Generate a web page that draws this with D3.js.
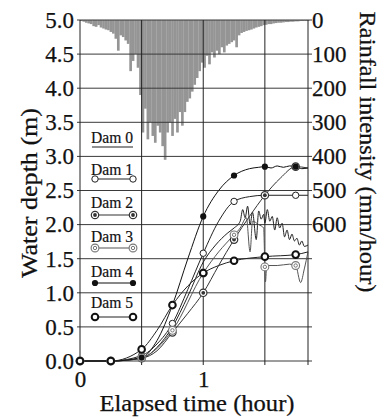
<!DOCTYPE html>
<html>
<head>
<meta charset="utf-8">
<script src="https://cdn.jsdelivr.net/npm/d3@7"></script>
<style>
  body { margin: 0; background: #fff; }
  svg { display: block; font-family: "Liberation Serif", "Times New Roman", serif; }
</style>
</head>
<body>
<svg id="chart" width="384" height="419"></svg>
<script>
// rainfall intensity (mm/hour), one bar every 0.02 hour from t = 0
const rainStep = 0.02;
const rainfall = [3, 5, 8, 10, 12, 18, 20, 15, 22, 25, 28, 30, 35, 40, 55, 90, 45, 50, 60, 70,
  150, 120, 100, 140, 220, 330, 260, 350, 300, 340, 360, 310, 330, 370, 410, 330, 300, 340, 290, 330,
  270, 310, 270, 240, 230, 210, 190, 170, 150, 125, 140, 105, 130, 95, 110, 90, 100, 80, 95, 75,
  70, 65, 60, 80, 45, 38, 35, 32, 30, 28, 25, 22, 20, 18, 15, 14, 12, 12, 10, 9,
  8, 8, 7, 6, 6, 5, 5, 4, 4, 3, 3, 3, 2];

// water depth (m) against elapsed time (hour)
const dam0 = [[0, 0], [0.25, 0], [0.5, 0.04], [0.625, 0.2], [0.75, 0.5], [0.875, 0.95], [1.0, 1.45],
  [1.1, 1.7], [1.2, 1.88], [1.25, 1.95], [1.3, 2.05], [1.32, 2.22], [1.34, 2.1], [1.36, 2.27], [1.38, 2.0],
  [1.4, 2.18], [1.43, 1.78], [1.45, 2.2], [1.47, 2.08], [1.49, 2.15], [1.5, 2.02], [1.52, 2.22], [1.54, 2.05],
  [1.56, 2.12], [1.58, 1.92], [1.6, 2.1], [1.62, 1.95], [1.64, 2.02], [1.66, 1.82], [1.68, 1.92], [1.7, 1.78],
  [1.72, 1.86], [1.74, 1.76], [1.76, 1.8], [1.78, 1.7], [1.8, 1.76], [1.82, 1.68], [1.85, 1.7]];
const dam1 = [[0, 0], [0.25, 0], [0.5, 0.08], [0.625, 0.25], [0.75, 0.55], [0.875, 1.05], [1.0, 1.58],
  [1.125, 2.05], [1.25, 2.34], [1.375, 2.41], [1.5, 2.43], [1.75, 2.43], [1.85, 2.43]];
const dam2 = [[0, 0], [0.25, 0], [0.5, 0.04], [0.625, 0.15], [0.75, 0.42], [0.875, 0.7], [1.0, 1.0],
  [1.125, 1.4], [1.25, 1.78], [1.375, 2.12], [1.5, 2.43], [1.625, 2.68], [1.75, 2.85], [1.85, 2.83]];
const dam3 = [[0, 0], [0.25, 0], [0.5, 0.05], [0.75, 0.45], [1.0, 1.29], [1.125, 1.6], [1.25, 1.85],
  [1.3, 1.95], [1.35, 2.1], [1.38, 1.6], [1.4, 2.05], [1.45, 2.0], [1.49, 1.95], [1.5, 1.38], [1.505, 1.16],
  [1.515, 1.4], [1.6, 1.4], [1.7, 1.42], [1.75, 1.4], [1.79, 1.15], [1.82, 1.35], [1.85, 1.6]];
const dam4 = [[0, 0], [0.25, 0], [0.5, 0.05], [0.625, 0.3], [0.75, 0.82], [0.875, 1.5], [1.0, 2.12],
  [1.125, 2.5], [1.25, 2.72], [1.375, 2.82], [1.45, 2.84], [1.5, 2.85], [1.55, 2.83], [1.6, 2.86],
  [1.65, 2.84], [1.7, 2.86], [1.75, 2.85], [1.8, 2.82], [1.85, 2.83]];
const dam5 = [[0, 0], [0.25, 0], [0.5, 0.17], [0.625, 0.45], [0.75, 0.82], [0.875, 1.1], [1.0, 1.29],
  [1.125, 1.4], [1.25, 1.47], [1.5, 1.53], [1.75, 1.56], [1.85, 1.6]];

const damNames = ['Dam 0', 'Dam 1', 'Dam 2', 'Dam 3', 'Dam 4', 'Dam 5'];
const depthTicks = [0, 0.5, 1, 1.5, 2, 2.5, 3, 3.5, 4, 4.5, 5];
const rainTicks = [0, 100, 200, 300, 400, 500, 600];
const timeTicks = [0, 0.5, 1, 1.5, 1.85];

const svg = d3.select('#chart');
const plotL = 80, plotR = 308, plotT = 20, plotB = 361;

const x = d3.scaleLinear().domain([0, 1.85]).range([plotL, plotR]);
const y = d3.scaleLinear().domain([0, 5]).range([plotB, plotT]);
const rain = d3.scaleLinear().domain([0, 1000]).range([plotT, plotB]);

// hyetograph hanging from the top
svg.append('g')
    .selectAll('rect')
    .data(rainfall)
    .join('rect')
    .attr('x', (d, i) => x(i * rainStep))
    .attr('width', (d, i) => x((i + 1) * rainStep) - x(i * rainStep) + 0.2)
    .attr('y', plotT)
    .attr('height', d => rain(d) - plotT)
    .attr('fill', '#959595');

// grid
svg.append('g')
    .selectAll('line')
    .data(depthTicks)
    .join('line')
    .attr('x1', plotL - 3).attr('x2', plotR + 4)
    .attr('y1', d => y(d)).attr('y2', d => y(d))
    .attr('stroke', '#3a3a3a').attr('stroke-width', 1);

svg.append('g')
    .selectAll('line')
    .data(timeTicks)
    .join('line')
    .attr('x1', d => x(d)).attr('x2', d => x(d))
    .attr('y1', plotT).attr('y2', plotB + 4)
    .attr('stroke', '#222').attr('stroke-width', 1);

// axes (labels only, lines come from the grid)
const yAxis = svg.append('g')
    .attr('transform', `translate(${plotL},0)`)
    .call(d3.axisLeft(y).tickValues(depthTicks).tickFormat(d3.format('.1f')).tickSize(0).tickPadding(6));
const rAxis = svg.append('g')
    .attr('transform', `translate(${plotR},0)`)
    .call(d3.axisRight(rain).tickValues(rainTicks).tickSize(0).tickPadding(4));
const xAxis = svg.append('g')
    .attr('transform', `translate(0,${plotB})`)
    .call(d3.axisBottom(x).tickValues([0, 1]).tickFormat(d3.format('d')).tickSize(0).tickPadding(10));
[yAxis, rAxis, xAxis].forEach(a => {
    a.select('.domain').remove();
    a.selectAll('text').attr('font-size', 23).attr('fill', '#111')
        .attr('stroke', '#111').attr('stroke-width', 0.25)
        .attr('font-family', '"Liberation Serif", serif');
});

// water depth lines
const series = [
    {data: dam0, marker: null, color: '#222'},
    {data: dam1, marker: 'open', color: '#222'},
    {data: dam2, marker: 'dot', color: '#333'},
    {data: dam3, marker: 'double', color: '#555'},
    {data: dam4, marker: 'filled', color: '#111'},
    {data: dam5, marker: 'bold', color: '#222'}
];

const line = d3.line()
    .x(d => x(d[0]))
    .y(d => y(d[1]))
    .curve(d3.curveMonotoneX);

function drawMarker(g, kind, cx, cy) {
    if (kind === 'open') {
        g.append('circle').attr('cx', cx).attr('cy', cy).attr('r', 3.2)
            .attr('fill', '#fff').attr('stroke', '#222').attr('stroke-width', 1);
    } else if (kind === 'dot') {
        g.append('circle').attr('cx', cx).attr('cy', cy).attr('r', 3.7)
            .attr('fill', '#fff').attr('stroke', '#333').attr('stroke-width', 1.2);
        g.append('circle').attr('cx', cx).attr('cy', cy).attr('r', 1.9).attr('fill', '#333');
    } else if (kind === 'double') {
        g.append('circle').attr('cx', cx).attr('cy', cy).attr('r', 3.9)
            .attr('fill', '#fff').attr('stroke', '#777').attr('stroke-width', 1.1);
        g.append('circle').attr('cx', cx).attr('cy', cy).attr('r', 1.7)
            .attr('fill', 'none').attr('stroke', '#777').attr('stroke-width', 1);
    } else if (kind === 'filled') {
        g.append('circle').attr('cx', cx).attr('cy', cy).attr('r', 3.1).attr('fill', '#111');
    } else if (kind === 'bold') {
        g.append('circle').attr('cx', cx).attr('cy', cy).attr('r', 3.3)
            .attr('fill', '#fff').attr('stroke', '#111').attr('stroke-width', 2);
    }
}

const lines = svg.append('g');
series.forEach(s => {
    lines.append('path')
        .datum(s.data)
        .attr('d', line)
        .attr('fill', 'none')
        .attr('stroke', s.color)
        .attr('stroke-width', 1);
});

const markers = svg.append('g');
series.forEach(s => {
    if (!s.marker) return;
    s.data
        .filter(d => Math.abs(d[0] * 4 - Math.round(d[0] * 4)) < 1e-6)
        .forEach(d => drawMarker(markers, s.marker, x(d[0]), y(d[1])));
});

// legend in the first column
const legendTextY = [143, 175, 208, 242, 277, 308];
const legendLineY = [147, 179, 215, 248, 283, 317];
const legend = svg.append('g');
damNames.forEach((name, i) => {
    legend.append('text')
        .attr('x', 112).attr('y', legendTextY[i])
        .attr('text-anchor', 'middle')
        .attr('font-size', 16)
        .attr('textLength', 42).attr('lengthAdjust', 'spacingAndGlyphs')
        .attr('fill', '#111').attr('stroke', '#111').attr('stroke-width', 0.2)
        .text(name);
    if (i === 0) {
        legend.append('line').attr('x1', 92).attr('x2', 133)
            .attr('y1', legendLineY[i]).attr('y2', legendLineY[i])
            .attr('stroke', '#222').attr('stroke-width', 1.2);
    } else {
        legend.append('line').attr('x1', 95).attr('x2', 133)
            .attr('y1', legendLineY[i]).attr('y2', legendLineY[i])
            .attr('stroke', series[i].color).attr('stroke-width', 1.2);
        drawMarker(legend, series[i].marker, 95, legendLineY[i]);
        drawMarker(legend, series[i].marker, 133, legendLineY[i]);
    }
});

// axis titles
svg.append('text')
    .attr('transform', 'translate(37,193) rotate(-90)')
    .attr('text-anchor', 'middle')
    .attr('font-size', 23)
    .attr('textLength', 170).attr('lengthAdjust', 'spacingAndGlyphs')
    .attr('fill', '#111').attr('stroke', '#111').attr('stroke-width', 0.25)
    .text('Water depth (m)');

svg.append('text')
    .attr('transform', 'translate(360,152) rotate(90)')
    .attr('text-anchor', 'middle')
    .attr('font-size', 23)
    .attr('textLength', 281).attr('lengthAdjust', 'spacingAndGlyphs')
    .attr('fill', '#111').attr('stroke', '#111').attr('stroke-width', 0.25)
    .text('Rainfall intensity (mm/hour)');

svg.append('text')
    .attr('x', 197).attr('y', 411)
    .attr('text-anchor', 'middle')
    .attr('font-size', 23)
    .attr('textLength', 195).attr('lengthAdjust', 'spacingAndGlyphs')
    .attr('fill', '#111').attr('stroke', '#111').attr('stroke-width', 0.25)
    .text('Elapsed time (hour)');
</script>
</body>
</html>
